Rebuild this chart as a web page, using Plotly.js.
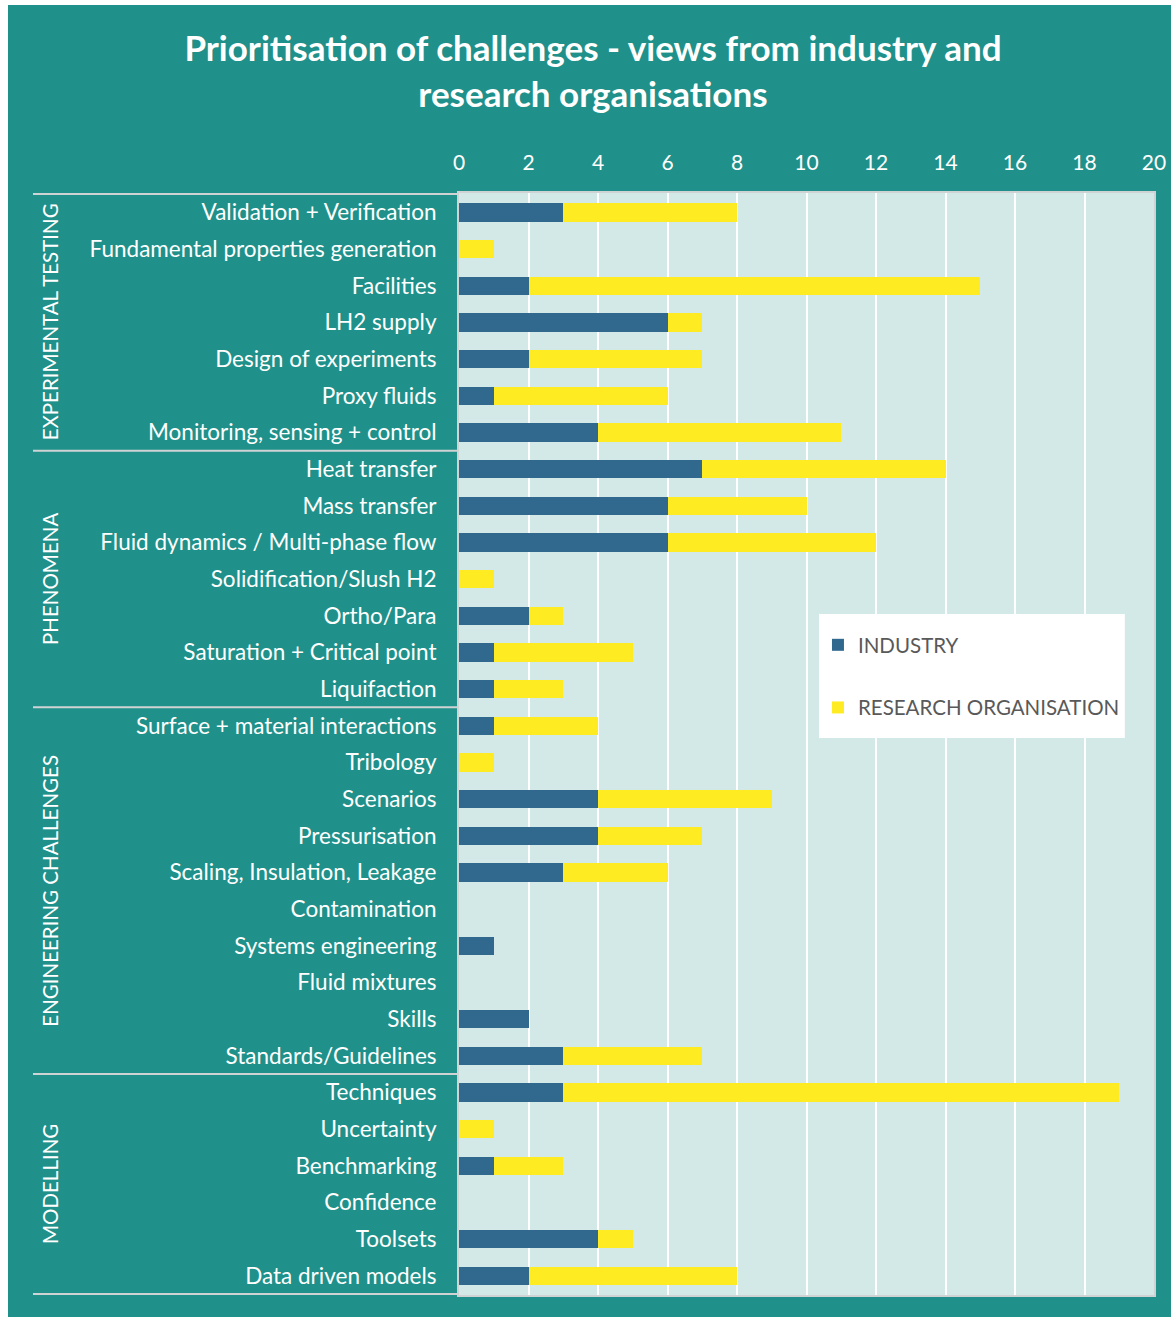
<!DOCTYPE html>
<html>
<head>
<meta charset="utf-8">
<script src="https://cdn.plot.ly/plotly-3.0.1.min.js"></script>
<style>
html,body{margin:0;padding:0;background:#ffffff;}
#chart{position:absolute;left:8px;top:5px;width:1163px;height:1312px;}
</style>
</head>
<body>
<div id="chart"></div>
<script>
const categories = [
  "Validation + Verification","Fundamental properties generation","Facilities","LH2 supply",
  "Design of experiments","Proxy fluids","Monitoring, sensing + control",
  "Heat transfer","Mass transfer","Fluid dynamics / Multi-phase flow","Solidification/Slush H2",
  "Ortho/Para","Saturation + Critical point","Liquifaction",
  "Surface + material interactions","Tribology","Scenarios","Pressurisation",
  "Scaling, Insulation, Leakage","Contamination","Systems engineering","Fluid mixtures",
  "Skills","Standards/Guidelines",
  "Techniques","Uncertainty","Benchmarking","Confidence","Toolsets","Data driven models"
];
const industry = [3,0,2,6,2,1,4, 7,6,6,0,2,1,1, 1,0,4,4,3,0,1,0,2,3, 3,0,1,0,4,2];
const research = [5,1,13,1,5,5,7, 7,4,6,1,1,4,2, 3,1,5,3,3,0,0,0,0,4, 16,1,2,0,1,6];
const groups = ["EXPERIMENTAL TESTING","PHENOMENA","ENGINEERING CHALLENGES","MODELLING"];
const groupSizes = [7,7,10,6];
const xTicks = [0,2,4,6,8,10,12,14,16,18,20];

const teal = "#20918A";
const font = "Lato, 'Open Sans', sans-serif";

const traces = [
  {type:"bar", orientation:"h", name:"INDUSTRY", legendgroup:"a", y:categories, x:industry,
   marker:{color:"#31688E"}, width:0.5},
  {type:"bar", orientation:"h", name:"RESEARCH ORGANISATION", legendgroup:"b", y:categories, x:research,
   marker:{color:"#FFEB22"}, width:0.5}
];

const plotW = 1163 - 451 - 17;
const shapes = [];
const annotations = [];
let start = 0;
const lineX0 = -(459 - 33) / plotW;
shapes.push({type:"line", xref:"paper", yref:"y", x0:lineX0, x1:0, y0:-0.5, y1:-0.5,
  line:{color:"#CFD3D3", width:2}});
groups.forEach((g, i) => {
  const end = start + groupSizes[i];
  shapes.push({type:"line", xref:"paper", yref:"y", x0:lineX0, x1:0, y0:end-0.5, y1:end-0.5,
    line:{color:"#CFD3D3", width:2}});
  annotations.push({xref:"paper", yref:"y", x:0, xshift:-(459-50), y:(start+end-1)/2,
    text:g, textangle:-90, showarrow:false, font:{family:font, size:20.5, color:"#ffffff"},
    xanchor:"center", yanchor:"middle"});
  start = end;
});
// white legend box
shapes.push({type:"rect", xref:"paper", yref:"paper", x0:0.518, x1:0.958, y0:0.5054, y1:0.618,
  fillcolor:"#ffffff", line:{width:0}, layer:"above"});

const layout = {
  width:1163, height:1312,
  paper_bgcolor:teal, plot_bgcolor:"#D3E9E7",
  margin:{l:451, r:17, t:188, b:22},
  barmode:"stack", bargap:0.5,
  title:{text:"Prioritisation of challenges - views from industry and<br>research organisations",
    font:{family:font, size:35, color:"#ffffff", weight:"bold"}, x:0.503, xanchor:"center",
    yref:"container", y:0.9573, yanchor:"middle"},
  xaxis:{side:"top", range:[0,20], tickvals:xTicks, ticktext:xTicks.map(String),
    showgrid:true, gridcolor:"#ffffff", gridwidth:2, zeroline:false,
    tickfont:{family:font, size:21, color:"#ffffff"}, ticks:"", ticklabelstandoff:13,
    showline:true, linecolor:"#CFD3D3", linewidth:2, mirror:true, fixedrange:true},
  yaxis:{type:"category", autorange:"reversed", tickfont:{family:font, size:22.5, color:"#ffffff"},
    ticks:"", ticklabelstandoff:16, showgrid:false, zeroline:false,
    showline:true, linecolor:"#CFD3D3", linewidth:2, mirror:true, fixedrange:true},
  legend:{x:0.5165, y:0.608, xanchor:"left", yanchor:"top", bgcolor:"rgba(0,0,0,0)",
    font:{family:font, size:20.5, color:"#595959"}, tracegroupgap:33,
    traceorder:"grouped", itemwidth:30, borderwidth:0},
  shapes:shapes, annotations:annotations, showlegend:true
};

Plotly.newPlot("chart", traces, layout, {displayModeBar:false, staticPlot:true});
</script>
</body>
</html>
